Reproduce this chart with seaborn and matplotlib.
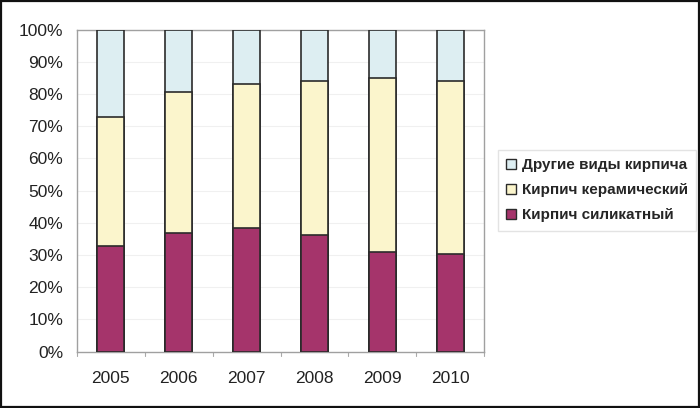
import matplotlib
matplotlib.use("Agg")
import matplotlib.pyplot as plt
import seaborn as sns
import pandas as pd
import numpy as np
from matplotlib.patches import Patch, Rectangle

years = ["2005", "2006", "2007", "2008", "2009", "2010"]
silicate = [32.7, 36.9, 38.3, 36.1, 30.9, 30.4]
ceramic = [40.1, 43.7, 44.8, 47.9, 53.9, 53.6]
other = [27.2, 19.4, 16.9, 16.0, 15.2, 16.0]
series_names = ["Другие виды кирпича", "Кирпич керамический", "Кирпич силикатный"]
yticks = [0, 10, 20, 30, 40, 50, 60, 70, 80, 90, 100]

sns.set_theme(style="white")
plt.rcParams["font.family"] = ["Liberation Sans", "DejaVu Sans"]

c_sil = "#A5346B"
c_cer = "#FBF5CC"
c_oth = "#DDEEF2"
edge = "#2b2b2b"

df = pd.DataFrame({"year": years, "sil": silicate, "cer": ceramic, "oth": other})
df["cum_cer"] = df["sil"] + df["cer"]
df["cum_all"] = df["cum_cer"] + df["oth"]

fig = plt.figure(figsize=(7.0, 4.08), dpi=100)
ax = fig.add_axes([77/700, 1 - 351.5/408, (484 - 77)/700, (351.5 - 29.5)/408])

for col, color in [("cum_all", c_oth), ("cum_cer", c_cer), ("sil", c_sil)]:
    sns.barplot(data=df, x="year", y=col, color=color, width=0.4,
                edgecolor=edge, linewidth=1.2, saturation=1, ax=ax, zorder=3)

ax.set_ylim(0, 100)
ax.set_xlim(-0.5, 5.5)
ax.set_yticks(yticks)
ax.set_yticklabels([f"{v}%" for v in yticks], fontsize=12.5, color="#222222")
ax.tick_params(axis="x", labelsize=12.5, colors="#222222", length=0, pad=14)
ax.tick_params(axis="y", length=4, color="#999999", width=0.8, pad=6)
ax.set_xlabel("")
ax.set_ylabel("")
for v in yticks[1:-1]:
    ax.axhline(v, color="#f0f0f0", lw=0.8, zorder=1)
for s in ["left", "bottom", "top", "right"]:
    ax.spines[s].set_color("#a0a0a0")
    ax.spines[s].set_linewidth(1.0)
for x in np.arange(-0.5, 6.0, 1.0):
    ax.plot([x, x], [0, -1.3], color="#aaaaaa", lw=0.8, clip_on=False)

handles = [Patch(facecolor=c, edgecolor=edge, linewidth=1.0) for c in [c_oth, c_cer, c_sil]]
leg = fig.legend(handles, series_names, loc="upper left",
                 bbox_to_anchor=(498/700, 1 - 150/408), frameon=True,
                 prop={"weight": "bold", "size": 11}, handlelength=0.6, handleheight=0.6,
                 handletextpad=0.4, labelspacing=0.72, borderpad=0.55, borderaxespad=0,
                 fancybox=False)
leg.get_frame().set_edgecolor("#dddddd")
leg.get_frame().set_linewidth(1.0)

fig.patches.append(Rectangle((0.0015, 0.0025), 0.997, 0.995, transform=fig.transFigure,
                             fill=False, edgecolor="#111111", linewidth=1.6))

fig.savefig("out.png", dpi=100)
